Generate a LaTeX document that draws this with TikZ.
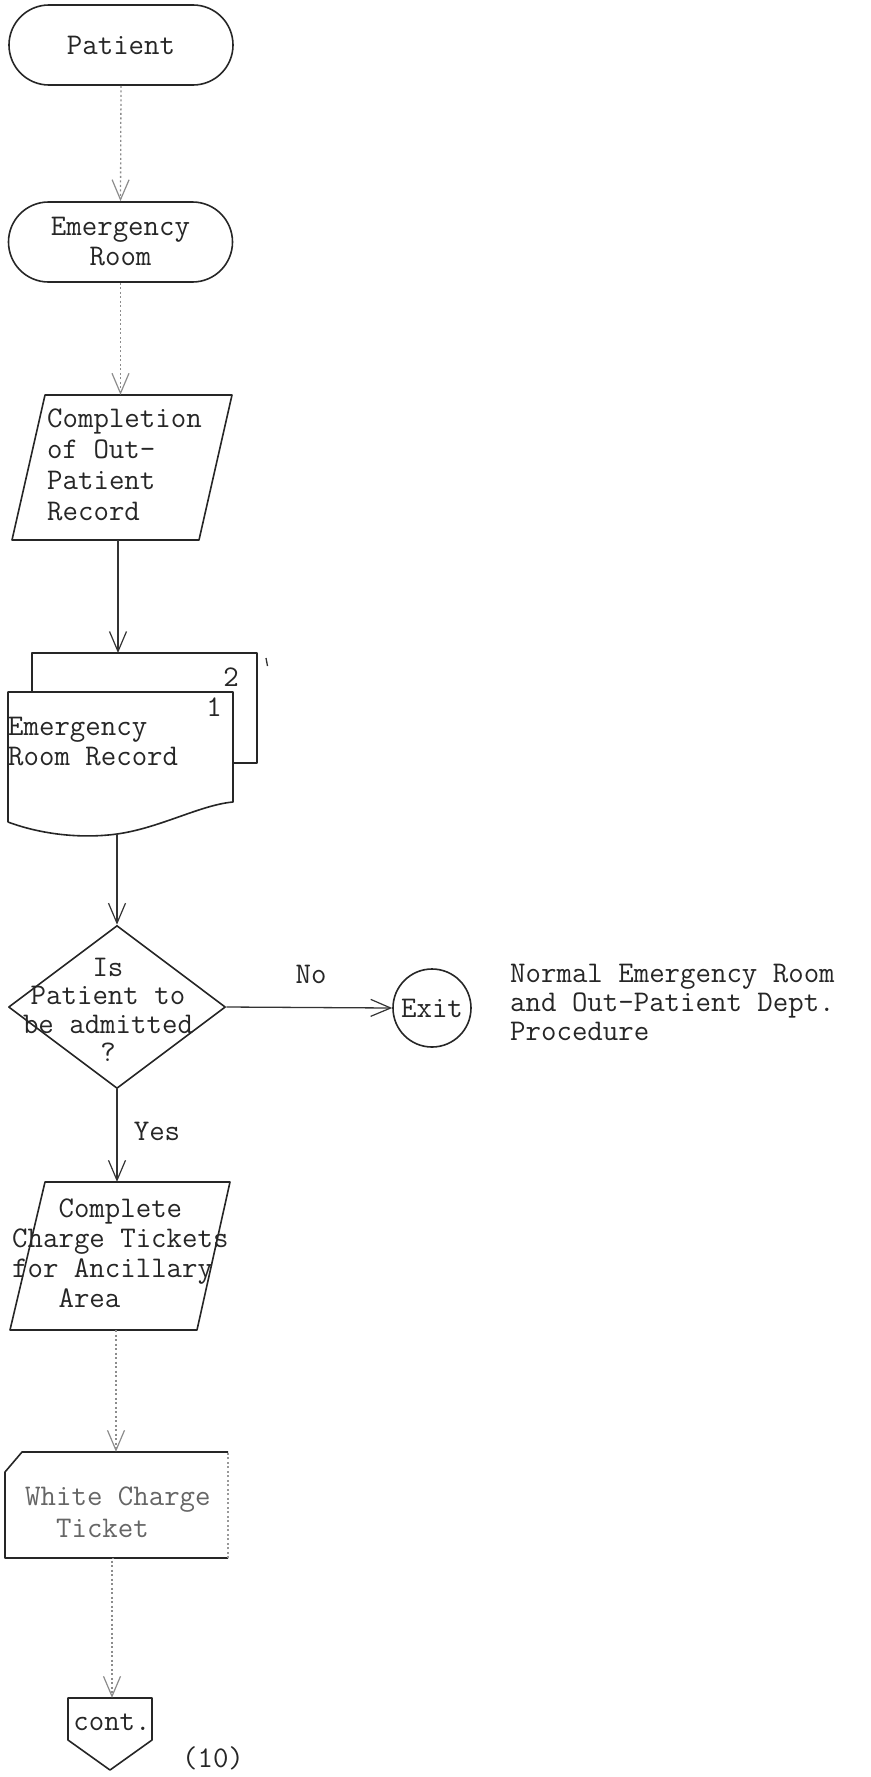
\documentclass[tikz,border=0pt]{standalone}
\usepackage{fontspec}
\usetikzlibrary{arrows.meta,shapes.geometric,calc}
\begin{document}
\begin{tikzpicture}[x=1pt,y=-1pt,
  every node/.style={font=\ttfamily\fontsize{30}{30}\selectfont, text=black!85},
  outline/.style={draw=black!85, line width=1.6pt, line join=round},
  flow/.style={draw=black!80, line width=1.3pt,
    -{Straight Barb[length=20pt,width=17pt,line width=1.2pt]}},
  faint/.style={flow, draw=black!45, dash pattern=on 2pt off 2.5pt},
  term/.style={outline, rounded corners=40pt, minimum width=224pt,
    minimum height=80pt, inner sep=0pt, align=center},
  holder/.style={inner sep=0pt, minimum width=#1},
  txt/.style={inner sep=0pt, align=left, anchor=west},
]
\useasboundingbox (0,0) rectangle (870,1777);

% terminals
\node[term] (patient) at (121,45) {Patient};
\node[term] (er) at (120.5,242) {Emergency\\Room};

% completion of out-patient record (input/output)
\draw[outline] (45,395) -- (232,395) -- (199,540) -- (12,540) -- cycle;
\node[holder=187pt, minimum height=145pt] (compl) at (118,467.5) {};
\node[txt, font=\ttfamily\fontsize{30}{31}\selectfont] (compltext) at (47,465)
  {Completion\\of Out-\\Patient\\Record};

% two-part emergency room record
\draw[outline] (32,692) -- (32,653) -- (257,653) -- (257,763) -- (233,763);
\draw[outline] (8,822) -- (8,692) -- (233,692) -- (233,802)
  .. controls (200,805) and (160,828) .. (117,834)
  .. controls (80,839) and (40,834) .. (8,822);
\draw[black!80, line width=1.3pt] (266,658) -- (267.5,666);
\coordinate (docin) at (118,653);
\coordinate (docout) at (117,834);
\node[inner sep=0pt] (copytwo) at (231,677) {2};
\node[inner sep=0pt] (copyone) at (214,707) {1};
\node[txt] (doctext) at (8,742) {Emergency\\Room Record};

% decision
\node[diamond, outline, minimum width=217pt, minimum height=163pt,
  inner sep=0pt] (dec) at (117,1007) {};
\node[inner sep=0pt, align=center, font=\ttfamily\fontsize{30}{28.5}\selectfont]
  (dectext) at (108,1010) {Is\\Patient to\\be admitted\\?};

% exit connector and its note
\node[circle, outline, minimum size=78pt, inner sep=0pt] (exit) at (432,1008) {Exit};
\node[inner sep=0pt] (no) at (311,974) {No};
\node[txt, font=\ttfamily\fontsize{30}{29}\selectfont] (note) at (510,1002)
  {Normal Emergency Room\\and Out-Patient Dept.\\Procedure};

% complete charge tickets (input/output)
\draw[outline] (45,1182) -- (230,1182) -- (197,1330) -- (10,1330) -- cycle;
\node[holder=185pt, minimum height=148pt] (ccharge) at (116,1256) {};
\node[txt, font=\ttfamily\fontsize{30}{30}\selectfont] (cchargetext) at (12,1253)
  {\phantom{Com}Complete\\Charge Tickets\\for Ancillary\\\phantom{Are}Area};
\node[inner sep=0pt] (yes) at (157,1131) {Yes};

% white charge ticket (card)
\draw[outline] (228,1452) -- (22,1452) -- (5,1472) -- (5,1558) -- (228,1558);
\draw[outline, draw=black!40, dash pattern=on 2pt off 2.5pt] (228,1558) -- (228,1452);
\node[holder=223pt, minimum height=106pt] (card) at (114,1505) {};
\node[txt, text=black!60, font=\ttfamily\fontsize{30}{32}\selectfont] (cardtext)
  at (25,1512) {White Charge\\\phantom{Wh}Ticket};

% off-page connector
\draw[outline] (68,1698) -- (152,1698) -- (152,1740) -- (110,1770) -- (68,1740) -- cycle;
\node[holder=84pt, minimum height=72pt] (cont) at (112,1734) {};
\node[inner sep=0pt] (conttext) at (112,1722) {cont.};
\node[inner sep=0pt] (page) at (213,1758) {(10)};

% connectors
\draw[faint] (patient.south) -- (er.north);
\draw[faint] (er.south) -- (er.south |- compl.north);
\draw[flow] (compl.south -| docin) -- (docin);
\draw[flow] (docout) -- (dec.north);
\draw[flow] (dec.east) -- (exit.west);
\draw[flow] (dec.south) -- (dec.south |- ccharge.north);
\draw[faint] (ccharge.south) -- (ccharge.south |- card.north);
\draw[faint] (card.south) -- (card.south -| cont.north) -- (cont.north);
\end{tikzpicture}
\end{document}
